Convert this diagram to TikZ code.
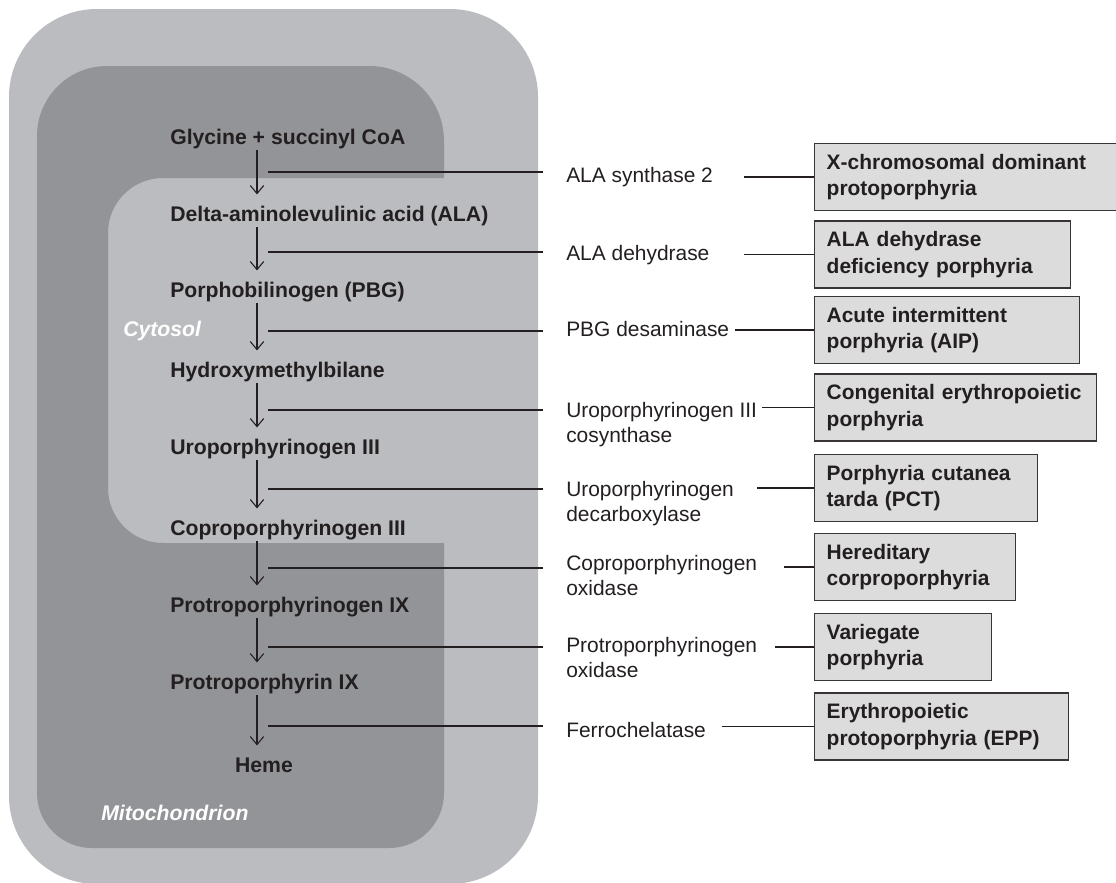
\documentclass[tikz,border=0pt]{standalone}
\usepackage{fontspec}
\setmainfont{Liberation Sans}
\usepackage{tikz}
\usetikzlibrary{arrows.meta,calc,positioning}
\definecolor{cellcol}{RGB}{187,188,191}
\definecolor{mitocol}{RGB}{147,148,151}
\definecolor{boxcol}{RGB}{220,220,220}
\definecolor{inkcol}{RGB}{35,31,32}

\tikzset{
  metab/.style={font=\bfseries\fontsize{15.9}{19}\selectfont,text=inkcol,inner sep=0pt,text height=12pt,text depth=4pt,anchor=west},
  enzyme/.style={font=\fontsize{15.7}{18.75}\selectfont,text=inkcol,inner sep=0pt,align=left,anchor=west},
  disease/.style={draw=inkcol!90,line width=1.1pt,fill=boxcol,font=\bfseries\fontsize{15.7}{20}\selectfont,text=inkcol,inner xsep=9pt,minimum height=50pt,align=left,anchor=west},
  compart/.style={font=\bfseries\itshape\fontsize{15.9}{19}\selectfont,text=white,inner sep=0pt,anchor=west},
  flow/.style={-{Straight Barb[length=6pt,width=10pt]},line width=0.8pt,draw=inkcol,shorten >=8pt},
  link/.style={line width=0.9pt,draw=inkcol},
}

\begin{document}
\begin{tikzpicture}[x=0.75pt,y=0.75pt]
\useasboundingbox (0,0) rectangle (1116,-882);
% cell, mitochondrion with the cytosol cut out
\fill[cellcol,rounded corners=66pt] (9,-9) rectangle (538,-884);
\fill[mitocol] (37,-136) arc[start angle=180,end angle=90,radius=70]
  -- (369,-66) arc[start angle=90,end angle=0,radius=75]
  -- (444,-178) -- (163,-178) arc[start angle=90,end angle=180,radius=55]
  -- (108,-488) arc[start angle=180,end angle=270,radius=55]
  -- (444,-543) -- (444,-793) arc[start angle=0,end angle=-90,radius=55]
  -- (92,-848) arc[start angle=270,end angle=180,radius=55] -- cycle;
\node[compart] (cyto) at (123,-331) {Cytosol};
\node[compart] (mito) at (101,-813) {Mitochondrion};

% heme pathway
\coordinate (ax) at (257,0);
\foreach \i/\txt/\y in {1/Glycine + succinyl CoA/137, 2/Delta-aminolevulinic acid (ALA)/214,
    3/Porphobilinogen (PBG)/290, 4/Hydroxymethylbilane/370, 5/Uroporphyrinogen III/447,
    6/Coproporphyrinogen III/528, 7/Protroporphyrinogen IX/605, 8/Protroporphyrin IX/682}
  \node[metab] (m\i) at (170,-\y-2) {\txt};
\node[metab,anchor=center] (m9) at (264,-767) {Heme};
\foreach \i [evaluate=\i as \j using int(\i+1)] in {1,...,8}
  \draw[flow] (m\i.south -| ax) -- (m\j.north -| ax);

% enzymes
\node[enzyme] (e1) at (566,-177) {ALA synthase 2};
\node[enzyme] (e2) at (566,-255) {ALA dehydrase};
\node[enzyme] (e3) at (566,-329) {PBG desaminase};
\node[enzyme] (e4) at (566,-425) {Uroporphyrinogen III\\cosynthase};
\node[enzyme] (e5) at (566,-504) {Uroporphyrinogen\\decarboxylase};
\node[enzyme] (e6) at (566,-576) {Coproporphyrinogen\\oxidase};
\node[enzyme] (e7) at (566,-658) {Protroporphyrinogen\\oxidase};
\node[enzyme] (e8) at (566,-730) {Ferrochelatase};

% porphyrias
\node[disease,text width=214.5pt] (d1) at (814,-177) {X-chromosomal dominant\\protoporphyria};
\node[disease,text width=174pt] (d2) at (814,-254.5) {ALA dehydrase\\deficiency porphyria};
\node[disease,text width=180.75pt] (d3) at (814,-330) {Acute intermittent\\porphyria (AIP)};
\node[disease,text width=193.5pt] (d4) at (814,-407.5) {Congenital erythropoietic\\porphyria};
\node[disease,text width=149.25pt] (d5) at (814,-488) {Porphyria cutanea\\tarda (PCT)};
\node[disease,text width=132.75pt] (d6) at (814,-567) {Hereditary\\corproporphyria};
\node[disease,text width=114.75pt] (d7) at (814,-647) {Variegate\\porphyria};
\node[disease,text width=172.5pt] (d8) at (814,-726.5) {Erythropoietic\\protoporphyria (EPP)};

% step -> enzyme -> disease
\foreach \i/\yl/\sx in {1/172/744, 2/252/744, 3/331/735, 4/410/762,
    5/489/757, 6/568/784, 7/647/775, 8/726/722} {
  \coordinate (j\i) at (268,-\yl);
  \coordinate (s\i) at (\sx,0);
  \draw[link,shorten >=17pt] (j\i) -- (j\i -| e\i.west);
  \draw[link] (s\i |- d\i.west) -- (d\i.west);
}
\end{tikzpicture}
\end{document}
